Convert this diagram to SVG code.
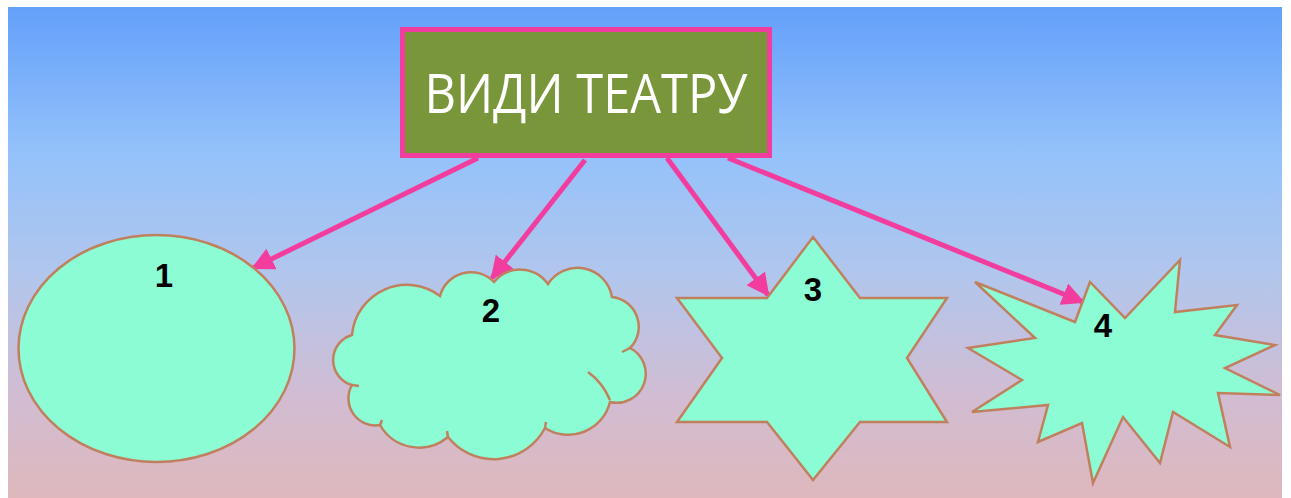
<svg xmlns="http://www.w3.org/2000/svg" width="1291" height="498" viewBox="0 0 1291 498">
  <defs>
    <linearGradient id="sky" x1="0" y1="0" x2="0" y2="1">
      <stop offset="0" stop-color="#64a0fa"/>
      <stop offset="0.3" stop-color="#94c2fa"/>
      <stop offset="0.55" stop-color="#b2c6ec"/>
      <stop offset="0.8" stop-color="#d2bcd2"/>
      <stop offset="1" stop-color="#deb8bc"/>
    </linearGradient>
    <marker id="head" viewBox="0 0 10 10" refX="9" refY="5" markerWidth="4.6" markerHeight="4.6" orient="auto" markerUnits="strokeWidth">
      <path d="M0,0 L10,5 L0,10 Z" fill="#f23c9e"/>
    </marker>
    <style>
      .shape { fill: #8cfcd4; stroke: #c0805e; stroke-width: 2.5; stroke-linejoin: miter; }
      .inner { fill: none; stroke: #c0805e; stroke-width: 2.5; }
      .num { font-family: "Liberation Sans", Arial, sans-serif; font-weight: bold; font-size: 33px; fill: #000; text-anchor: middle; }
      .link { fill: none; stroke: #f23c9e; stroke-width: 5; marker-end: url(#head); }
    </style>
  </defs>

  <!-- backdrop -->
  <rect x="0" y="0" width="1291" height="498" fill="#ffffff"/>
  <rect x="8" y="7" width="1274" height="491" fill="url(#sky)"/>

  <!-- title -->
  <g id="title">
    <rect x="402.5" y="29.5" width="367" height="126" fill="#7a963a" stroke="#f23c9e" stroke-width="5"/>
    <text x="586" y="113" font-family="'Open Sans', 'Noto Sans', sans-serif" font-size="55" fill="#ffffff" text-anchor="middle" textLength="323" lengthAdjust="spacingAndGlyphs">ВИДИ ТЕАТРУ</text>
  </g>

  <!-- connectors -->
  <g id="connectors">
    <line class="link" x1="478" y1="158" x2="253" y2="268"/>
    <line class="link" x1="585" y1="160" x2="492" y2="278"/>
    <line class="link" x1="667" y1="158" x2="768" y2="295"/>
    <line class="link" x1="728" y1="158" x2="1083" y2="302"/>
  </g>

  <!-- 1: ellipse -->
  <g id="node1">
    <ellipse class="shape" cx="156.5" cy="348.5" rx="138" ry="113.5"/>
    <text class="num" x="164" y="287">1</text>
  </g>

  <!-- 2: cloud -->
  <g id="node2">
    <path class="shape" d="M352,335
      A55,55 0 0 1 440,296
      A32,32 0 0 1 494,282
      A34,34 0 0 1 548,284
      A35,35 0 0 1 612,297
      A30,30 0 0 1 630,348
      A29,29 0 0 1 610,402
      A43,43 0 0 1 545,428
      A58,58 0 0 1 448,437
      A45,45 0 0 1 380,425
      A27,27 0 0 1 352,385
      A26,26 0 0 1 352,335 Z"/>
    <path class="inner" d="M588,372 Q603,383 610,400"/>
    <path class="inner" d="M630,348 L622,352"/>
    <path class="inner" d="M352,385 L359,386"/>
    <path class="inner" d="M380,425 L382,420"/>
    <path class="inner" d="M448,437 L447,431"/>
    <path class="inner" d="M545,428 L546,422"/>
    <text class="num" x="491" y="322">2</text>
  </g>

  <!-- 3: six-pointed star -->
  <g id="node3">
    <polygon class="shape" points="813,237 860,298 947,298 907,358 947,422 860,422 813,480 767,422 677,422 722,358 677,298 767,298"/>
    <text class="num" x="813" y="301">3</text>
  </g>

  <!-- 4: burst -->
  <g id="node4">
    <polygon class="shape" points="975,282 1075,322 1090,282 1125,318 1180,260 1175,312 1237,305 1215,335 1275,345 1225,368 1280,395 1218,393 1230,447 1173,412 1160,463 1123,417 1093,483 1082,423 1038,442 1048,405 972,412 1022,380 968,348 1035,338"/>
    <text class="num" x="1103" y="337">4</text>
  </g>
</svg>
